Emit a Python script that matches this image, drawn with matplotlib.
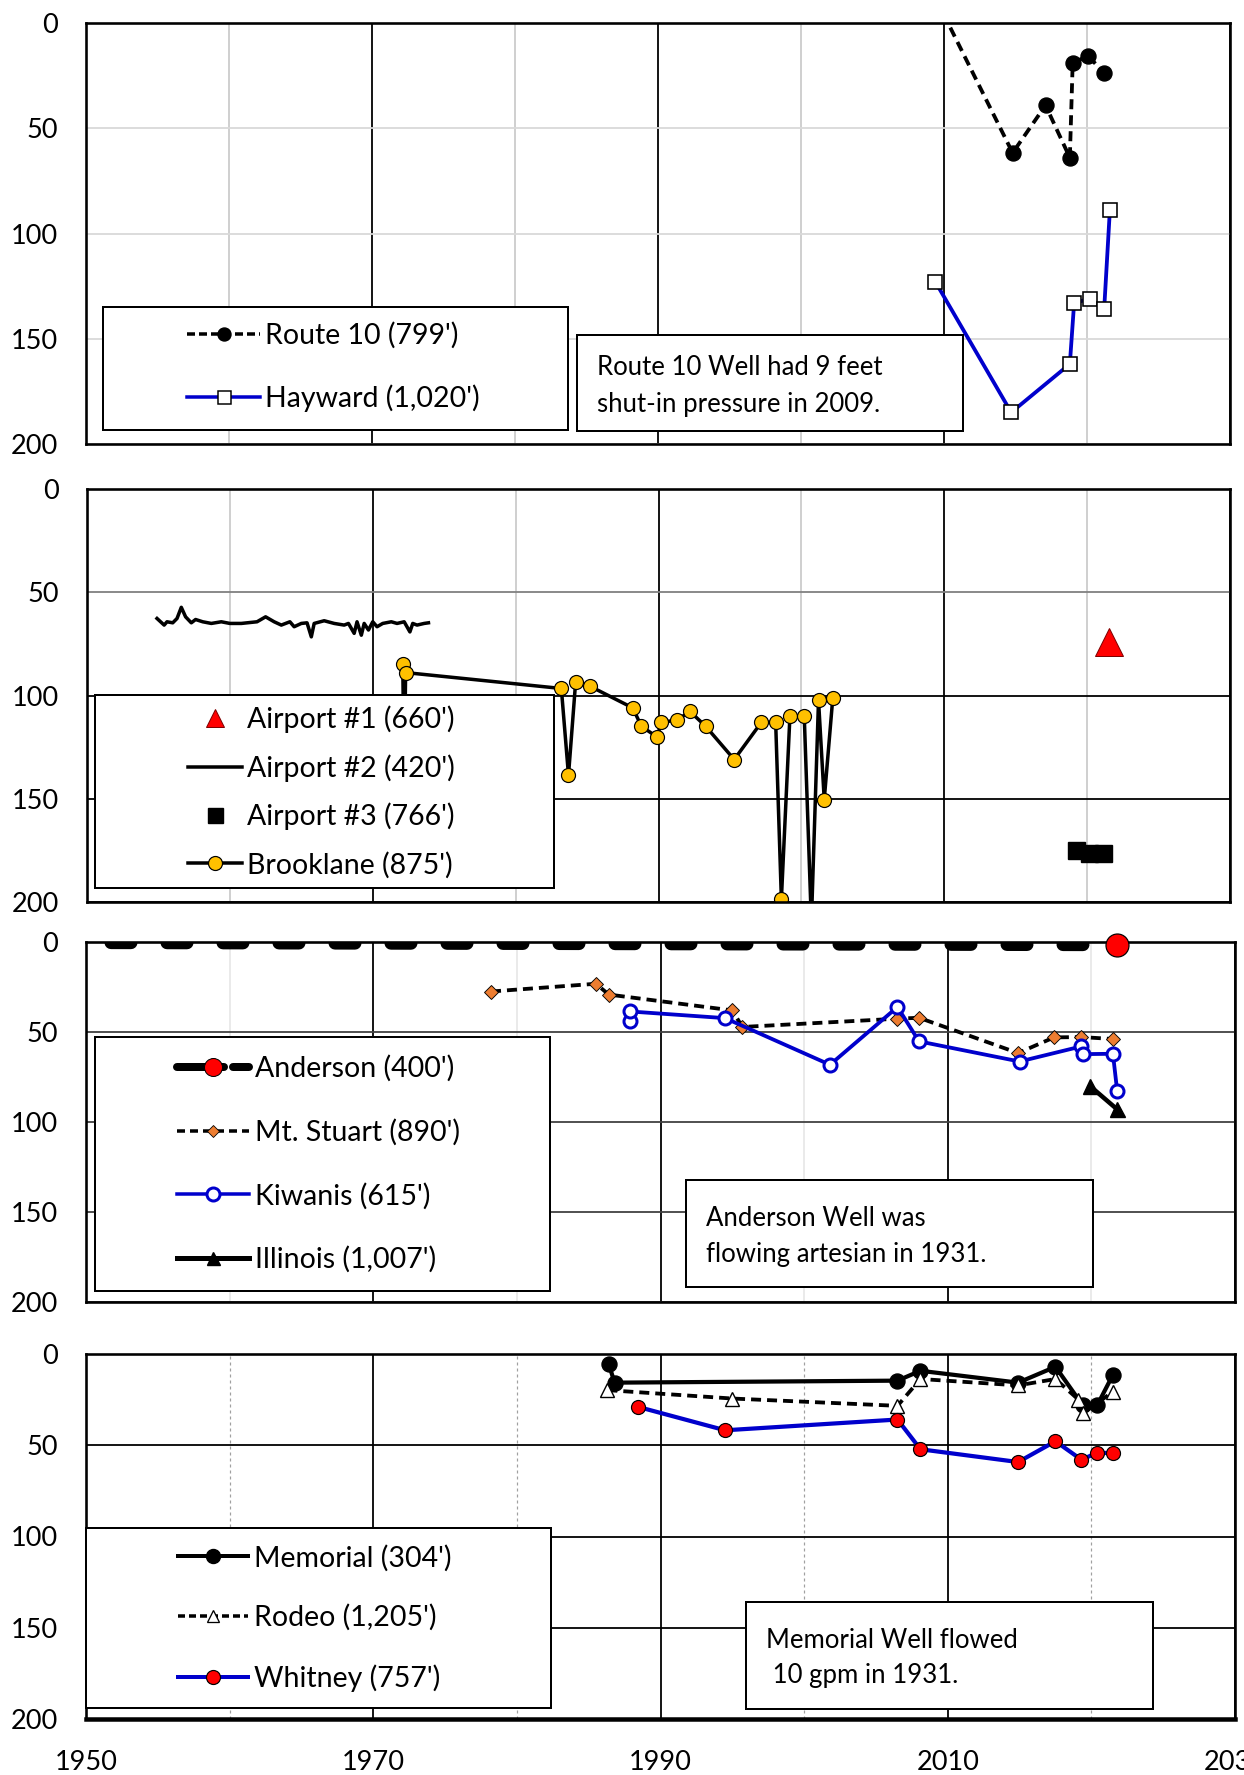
import matplotlib
matplotlib.use('Agg')
import matplotlib.pyplot as plt
from matplotlib.patches import Rectangle
from matplotlib.lines import Line2D
from matplotlib.ticker import FixedLocator

# ---------------- data (depth to water, ft) ----------------
# Panel 1
r10_year = [2009.4, 2014.8, 2017.1, 2018.8, 2019.0, 2020.1, 2021.2]
r10_val = [-12, 61.7, 39.1, 64.0, 18.8, 15.7, 23.9]
hay_year = [2009.4, 2014.7, 2018.8, 2019.1, 2020.2, 2021.2, 2021.6]
hay_val = [123, 185, 162, 133, 131, 136, 88.8]

# Panel 2
ap1_year = [2021.5]
ap1_val = [74]
air2_year = [1954.9, 1955.4, 1955.6, 1956.0, 1956.3, 1956.6, 1956.9, 1957.3, 1957.6,
             1958.1, 1958.7, 1959.4, 1960.0, 1960.8, 1961.9, 1962.5, 1963.1, 1963.6,
             1964.2, 1964.5, 1965.0, 1965.4, 1965.7, 1965.9, 1966.6, 1967.3, 1968.0,
             1968.3, 1968.7, 1968.9, 1969.2, 1969.4, 1969.7, 1970.0, 1970.3, 1970.7,
             1971.3, 1971.7, 1972.2, 1972.6, 1972.8, 1973.1, 1973.6, 1973.9]
air2_val = [62.7, 65.9, 64.3, 64.8, 62.7, 57.3, 61.9, 64.8, 63.2,
            64.3, 65.1, 64.3, 65.1, 65.1, 64.3, 61.9, 64.3, 65.9,
            64.3, 66.7, 65.1, 64.8, 71.6, 65.1, 63.8, 65.1, 65.9,
            65.1, 69.9, 64.3, 70.8, 65.1, 68.3, 64.3, 66.7, 65.1,
            64.3, 65.1, 64.3, 69.2, 65.1, 65.9, 65.1, 64.8]
ap3_year = [2019.2, 2020.1, 2021.1]
ap3_val = [175, 176.5, 176.5]
brook_year = [1972.1, 1972.2, 1972.3, 1983.2, 1983.7, 1984.2, 1985.2, 1988.2, 1988.8,
              1989.9, 1990.2, 1991.3, 1992.2, 1993.3, 1995.3, 1997.2, 1998.2, 1998.6,
              1999.2, 2000.2, 2000.7, 2001.2, 2001.6, 2002.2]
brook_val = [84.8, 140, 88.9, 96.6, 138.6, 93.5, 95.5, 106, 114.9,
             120.1, 113, 111.9, 107.7, 114.9, 131, 113, 113, 198.7,
             109.8, 109.8, 210, 102.3, 150.4, 101.1]

# Panel 3
and_year = [1931, 2021.8]
and_val = [0, 1.5]
mts_year = [1978.2, 1985.5, 1986.4, 1995.0, 1995.7, 2006.5, 2008.0, 2014.9, 2017.4, 2019.3, 2021.5]
mts_val = [27.5, 23.2, 29.2, 38, 47.2, 42.6, 42.1, 61.7, 53, 52.8, 53.9]
kiw_year = [1987.9, 1987.9, 1994.5, 2001.8, 2006.5, 2008.0, 2015.0, 2019.3, 2019.4, 2021.5, 2021.8]
kiw_val = [43.8, 38.6, 42.3, 68.2, 36.1, 55.2, 66.4, 58, 62.3, 62.1, 83]
ill_year = [2019.9, 2021.8]
ill_val = [80, 93]

# Panel 4
mem_year = [1986.4, 1986.8, 2006.5, 2008.1, 2014.9, 2017.5, 2019.4, 2020.4, 2021.5]
mem_val = [5.5, 15.7, 14.6, 9.2, 15.7, 7, 28.2, 28.2, 11.4]
rod_year = [1986.3, 1995.0, 2006.5, 2008.1, 2014.9, 2017.5, 2019.1, 2019.4, 2021.5]
rod_val = [19.8, 24.4, 28.4, 13.7, 17.2, 13.7, 25, 32.6, 20.7]
whi_year = [1988.4, 1994.5, 2006.5, 2008.1, 2014.9, 2017.5, 2019.3, 2020.4, 2021.5]
whi_val = [28.9, 41.8, 35.9, 52.2, 59.2, 47.8, 57.9, 54.2, 54.2]

x_major = [1950, 1970, 1990, 2010, 2030]
x_minor = [1960, 1980, 2000, 2020]
y_ticks = [0, 50, 100, 150, 200]

# ---------------- figure setup ----------------
W, H, DPI = 1244, 1775, 100
plt.rcParams['font.family'] = ['Lato', 'DejaVu Sans']
plt.rcParams['lines.scale_dashes'] = False
fig = plt.figure(figsize=(W / DPI, H / DPI), dpi=DPI)


def PT(px):
    return px * 72.0 / DPI


FS_TICK = 19.5
FS_LEG = 20.5
FS_NOTE = 18.5
BLUE = '#0000CC'


def add_panel(L, R, T, B, hgrid, vminor, show_x=False):
    ax = fig.add_axes([L / W, 1 - B / H, (R - L) / W, (B - T) / H])
    ax.set_xlim(1950, 2030)
    ax.set_ylim(200, 0)
    ax.xaxis.set_major_locator(FixedLocator(x_major))
    ax.xaxis.set_minor_locator(FixedLocator(x_minor))
    ax.yaxis.set_major_locator(FixedLocator(y_ticks))
    ax.tick_params(which='both', length=0)
    ax.tick_params(axis='y', pad=PT(28), labelsize=FS_TICK)
    ax.tick_params(axis='x', pad=PT(31), labelsize=FS_TICK, labelbottom=show_x)
    ax.set_axisbelow(True)
    ax.grid(which='major', axis='x', color='black', lw=PT(1.8))
    ax.grid(which='minor', axis='x', **vminor)
    ax.grid(which='major', axis='y', color='black', lw=PT(1.8))
    ticks = ax.yaxis.get_major_ticks()
    for t, c in zip(ticks, hgrid):
        t.gridline.set_color(c)
    for s in ax.spines.values():
        s.set_linewidth(PT(2.6))
        s.set_color('black')
    return ax


def add_box(ax, box, lw=2.0):
    x0, y0, x1, y1 = box
    r = Rectangle((x0 / W, 1 - y1 / H), (x1 - x0) / W, (y1 - y0) / H,
                  transform=fig.transFigure, facecolor='white', edgecolor='black',
                  lw=PT(lw), zorder=4, clip_on=False)
    ax.add_patch(r)


def add_legend(ax, handles, labels, box, xh, yc, pitch, hlen, gap):
    add_box(ax, box)
    fs_px = FS_LEG * DPI / 72.0
    row_h = 0.95 * fs_px
    leg = ax.legend(handles, labels, loc='center left',
                    bbox_to_anchor=(xh / W, 1 - yc / H), bbox_transform=fig.transFigure,
                    frameon=False, fontsize=FS_LEG, handlelength=hlen / fs_px,
                    handletextpad=gap / fs_px, borderpad=0, borderaxespad=0,
                    labelspacing=(pitch - row_h) / fs_px, numpoints=1)
    leg.set_zorder(5)
    return leg


def add_note(ax, box, x, baselines, lines):
    add_box(ax, box)
    for yb, t in zip(baselines, lines):
        fig.text(x / W, 1 - yb / H, t, fontsize=FS_NOTE, ha='left', va='baseline', zorder=6)


light = dict(color='#d0d0d0', lw=PT(2))
DASH = (0, (PT(10), PT(6)))

# ---------------- Panel 1 ----------------
ax1 = add_panel(86, 1230, 23, 444, ['#d9d9d9'] * 5, light)
ax1.plot(r10_year, r10_val, color='black', lw=PT(3.8), ls=DASH,
         marker='o', ms=PT(15), mfc='black', mec='black')
ax1.plot(hay_year, hay_val, color=BLUE, lw=PT(3.8), marker='s', ms=PT(14),
         mfc='white', mec='black', mew=PT(1.6))
h1 = [Line2D([], [], color='black', lw=PT(3.5), ls=(0, (PT(8), PT(4))), marker='o', ms=PT(13), mfc='black'),
      Line2D([], [], color=BLUE, lw=PT(3.5), marker='s', ms=PT(13), mfc='white', mec='black', mew=PT(1.5))]
add_legend(ax1, h1, ["Route 10 (799')", "Hayward (1,020')"], (103, 307, 568, 430),
           187, 367, 62.5, 73, 5)
add_note(ax1, (577, 335, 963, 431), 597, [375, 412],
         ["Route 10 Well had 9 feet", "shut-in pressure in 2009."])

# ---------------- Panel 2 ----------------
ax2 = add_panel(87, 1230, 489, 902, ['black', '#808080', 'black', 'black', 'black'], light)
ax2.plot(ap1_year, ap1_val, ls='none', marker='^', ms=PT(27), mfc='#FF0000', mec='#7f0000', mew=PT(1))
ax2.plot(air2_year, air2_val, color='black', lw=PT(3.5))
ax2.plot(ap3_year, ap3_val, ls='none', marker='s', ms=PT(17), color='black')
ax2.plot(brook_year, brook_val, color='black', lw=PT(3.5), marker='o', ms=PT(14),
         mfc='#FFC000', mec='black', mew=PT(1.2))
h2 = [Line2D([], [], ls='none', marker='^', ms=PT(18), mfc='#FF0000', mec='#7f0000', mew=PT(1)),
      Line2D([], [], color='black', lw=PT(3.5)),
      Line2D([], [], ls='none', marker='s', ms=PT(15), color='black'),
      Line2D([], [], color='black', lw=PT(3.5), marker='o', ms=PT(14), mfc='#FFC000', mec='black', mew=PT(1.2))]
add_legend(ax2, h2, ["Airport #1 (660')", "Airport #2 (420')", "Airport #3 (766')", "Brooklane (875')"],
           (95, 695, 554, 888), 188, 792, 48, 54, 5)

# ---------------- Panel 3 ----------------
ax3 = add_panel(86, 1235, 942, 1302, ['#404040'] * 5,
                dict(color='#e4e4e4', lw=PT(1.5)))
ax3.plot(and_year, and_val, color='black', lw=PT(13), ls=(0, (PT(20), PT(36))),
         dash_capstyle='round')
ax3.plot(and_year, and_val, ls='none', marker='o', ms=PT(23), mfc='#FF0000', mec='black',
         mew=PT(1.2), clip_on=False, zorder=3)
ax3.plot(mts_year, mts_val, color='black', lw=PT(3.8), ls=DASH, marker='D',
         ms=PT(10), mfc='#ED7D31', mec='black', mew=PT(0.9))
ax3.plot(kiw_year, kiw_val, color=BLUE, lw=PT(3.8), marker='o', ms=PT(13), mfc='white',
         mec=BLUE, mew=PT(3))
ax3.plot(ill_year, ill_val, color='black', lw=PT(4.5), marker='^', ms=PT(15), mfc='black', mec='black')
h3 = [Line2D([], [], color='black', lw=PT(8), ls=(0, (PT(28), PT(9), PT(10), PT(9))),
             dash_capstyle='round', marker='o', ms=PT(18), mfc='#FF0000', mec='black', mew=PT(1)),
      Line2D([], [], color='black', lw=PT(3.5), ls=(0, (PT(8), PT(5))), marker='D', ms=PT(9),
             mfc='#ED7D31', mec='black', mew=PT(0.8)),
      Line2D([], [], color=BLUE, lw=PT(3.5), marker='o', ms=PT(13), mfc='white', mec=BLUE, mew=PT(3)),
      Line2D([], [], color='black', lw=PT(5), marker='^', ms=PT(13), mfc='black')]
add_legend(ax3, h3, ["Anderson (400')", "Mt. Stuart (890')", "Kiwanis (615')", "Illinois (1,007')"],
           (95, 1037, 550, 1291), 177, 1164, 64, 72, 6)
add_note(ax3, (686, 1180, 1093, 1287), 706, [1226, 1262],
         ["Anderson Well was", "flowing artesian in 1931."])

# ---------------- Panel 4 ----------------
ax4 = add_panel(86, 1235, 1354, 1719, ['black'] * 5,
                dict(color='#a0a0a0', lw=PT(1.2), ls=(0, (PT(3), PT(3)))), show_x=True)
ax4.spines['bottom'].set_linewidth(PT(4.5))
ax4.plot(mem_year, mem_val, color='black', lw=PT(4.2), marker='o', ms=PT(15), mfc='black', mec='black')
ax4.plot(rod_year, rod_val, color='black', lw=PT(3.8), ls=DASH, marker='^',
         ms=PT(14), mfc='white', mec='black', mew=PT(1.4))
ax4.plot(whi_year, whi_val, color=BLUE, lw=PT(4.2), marker='o', ms=PT(14), mfc='#FF0000',
         mec='black', mew=PT(1.2))
h4 = [Line2D([], [], color='black', lw=PT(4), marker='o', ms=PT(14), mfc='black'),
      Line2D([], [], color='black', lw=PT(3.5), ls=(0, (PT(7), PT(4))), marker='^', ms=PT(12),
             mfc='white', mec='black', mew=PT(1.3)),
      Line2D([], [], color=BLUE, lw=PT(4), marker='o', ms=PT(14), mfc='#FF0000', mec='black', mew=PT(1.2))]
add_legend(ax4, h4, ["Memorial (304')", "Rodeo (1,205')", "Whitney (757')"],
           (86, 1528, 551, 1708), 178, 1618, 60, 70, 6)
add_note(ax4, (746, 1602, 1153, 1709), 766, [1648, 1683],
         ["Memorial Well flowed", " 10 gpm in 1931."])

fig.savefig('out.png', dpi=DPI)
